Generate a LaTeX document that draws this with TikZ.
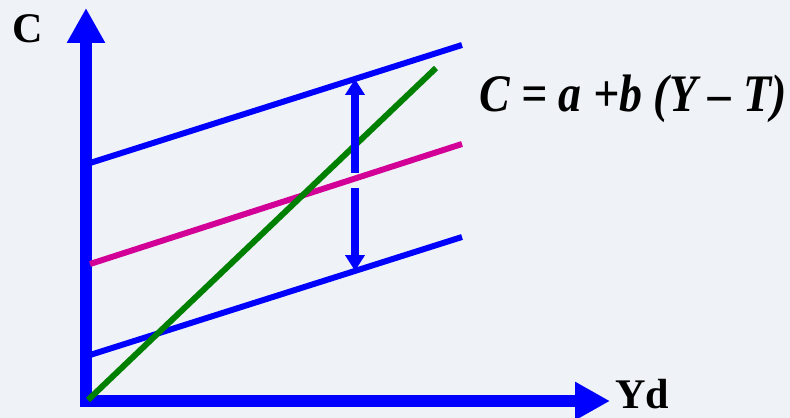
\documentclass[tikz,border=0pt]{standalone}
\usepackage{fontspec}
\setmainfont{Liberation Serif}
\usetikzlibrary{arrows.meta}

\definecolor{axisblue}{RGB}{0,0,255}
\definecolor{linemag}{RGB}{210,0,150}
\definecolor{linegreen}{RGB}{0,128,0}
\definecolor{bgpale}{RGB}{239,242,246}

\begin{document}
\begin{tikzpicture}[x=0.02cm, y=-0.02cm,
  axis/.style={draw=axisblue, line width=6.8pt, line join=miter},
  curve/.style={line width=3.4pt},
  shift arrow/.style={draw=axisblue, line width=4pt},
  label/.style={font=\fontsize{24}{28}\selectfont\bfseries, inner sep=0pt}]
% background
\fill[bgpale] (0,0) rectangle (790,418);
\useasboundingbox (0,0) rectangle (790,418);

% axes
\coordinate (O) at (86,401);
\coordinate (Ytop) at (86,8);
\coordinate (Xend) at (610,401);
\draw[axis, {Triangle[width=0.72cm, length=0.7cm]}-{Triangle[width=0.72cm, length=0.7cm]}] (Ytop) -- (O) -- (Xend);
\node[label] (C) at (28,29) {C};
\node[label, anchor=west] (Yd) at (615,394) {Yd};

% consumption lines
\coordinate (U1) at (90,163);  \coordinate (U2) at (462,45);
\coordinate (M1) at (90,264);  \coordinate (M2) at (462,144);
\coordinate (L1) at (90,355);  \coordinate (L2) at (462,237);
\draw[curve, axisblue] (U1) -- (U2);
\draw[curve, linemag] (M1) -- (M2);
\draw[curve, axisblue] (L1) -- (L2);

% 45 degree line
\coordinate (G1) at (88,400);
\coordinate (G2) at (436,68);
\draw[curve, linegreen] (G1) -- (G2);

% shift arrow
\coordinate (S1) at (355,79);  \coordinate (S2) at (355,173);
\coordinate (S3) at (355,188); \coordinate (S4) at (355,271);
\draw[shift arrow, {Triangle[width=0.38cm, length=0.32cm]}-] (S1) -- (S2);
\draw[shift arrow, -{Triangle[width=0.38cm, length=0.32cm]}] (S3) -- (S4);

% equation
\node[font=\fontsize{30}{34}\selectfont\bfseries\itshape, inner sep=0pt, anchor=base west, xscale=0.87] (eq) at (479,112) {C = a +b (Y – T)};
\end{tikzpicture}
\end{document}
